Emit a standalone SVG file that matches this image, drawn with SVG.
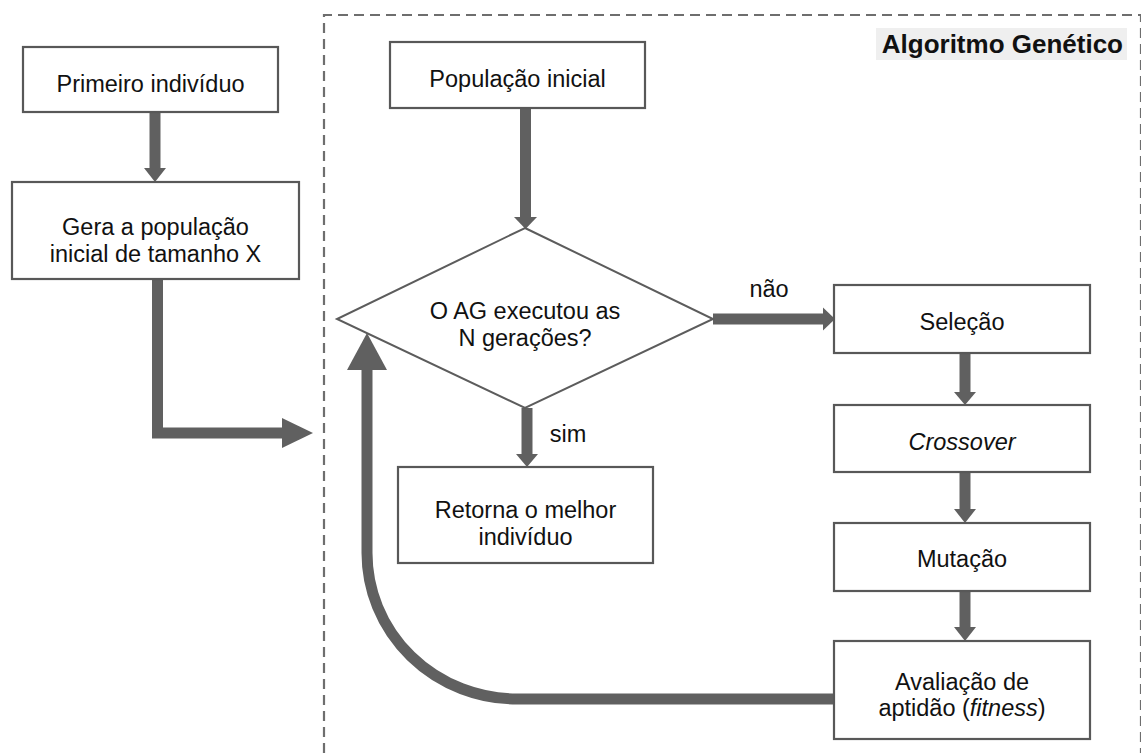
<svg xmlns="http://www.w3.org/2000/svg" width="1141" height="753" viewBox="0 0 1141 753">
<style>
.box{fill:#fff;stroke:#585858;stroke-width:2.2}
.t{font-family:"Liberation Sans",Arial,sans-serif;font-size:23.5px;fill:#111;text-anchor:middle}
.sh{stroke:#606060;stroke-width:11;fill:none}
.hd{fill:#606060}
</style>
<rect width="1141" height="753" fill="#fff"/>
<g id="frame">
<path d="M324,753 L324,15 L1141,15 L1141,753" fill="none" stroke="#6e6e6e" stroke-width="2.2" stroke-dasharray="10,6"/>
<rect x="876" y="28" width="251" height="32" fill="#efefef"/>
<text x="1123" y="53" font-family="'Liberation Sans',Arial,sans-serif" font-size="26" font-weight="bold" text-anchor="end" fill="#111">Algoritmo Genético</text>
</g>
<g id="connectors">
<line class="sh" x1="155" y1="112" x2="155" y2="169"/>
<polygon class="hd" points="144,168 166,168 155,182"/>
<path class="sh" d="M157.5,279 L157.5,433 L283,433"/>
<polygon class="hd" points="282,418 313,433 282,448"/>
<line class="sh" x1="525.5" y1="108" x2="525.5" y2="218"/>
<polygon class="hd" points="514,217 537,217 525.5,229"/>
<line class="sh" x1="713" y1="319" x2="824" y2="319"/>
<polygon class="hd" points="823,307.5 835,319 823,330.5"/>
<line class="sh" x1="527" y1="408" x2="527" y2="455"/>
<polygon class="hd" points="516,454 538,454 527,467"/>
<line class="sh" x1="965" y1="353" x2="965" y2="393"/>
<polygon class="hd" points="954,392 976,392 965,405"/>
<line class="sh" x1="965" y1="472" x2="965" y2="510"/>
<polygon class="hd" points="954,509 976,509 965,523"/>
<line class="sh" x1="965" y1="591" x2="965" y2="628"/>
<polygon class="hd" points="954,627 976,627 965,641"/>
<path class="sh" d="M834,699 L517,699 A150,146 0 0 1 367,553 L367,369"/>
<polygon class="hd" points="347,370 387,370 367,333"/>
<text class="t" x="769" y="297">não</text>
<text class="t" x="568" y="442">sim</text>
</g>
<g id="n-primeiro">
<rect class="box" x="23" y="47" width="255" height="65"/>
<text class="t" x="150.5" y="92">Primeiro indivíduo</text>
</g>
<g id="n-gera">
<rect class="box" x="12" y="182" width="287" height="97"/>
<text class="t" x="155.5" y="235">Gera a população</text>
<text class="t" x="155.5" y="262">inicial de tamanho X</text>
</g>
<g id="n-popinicial">
<rect class="box" x="390" y="42" width="255" height="66"/>
<text class="t" x="517.5" y="87">População inicial</text>
</g>
<g id="n-decisao">
<polygon points="525,228 713,319 525,408 337,319" fill="#fff" stroke="#5c5c5c" stroke-width="2"/>
<text class="t" x="525" y="319">O AG executou as</text>
<text class="t" x="525" y="346">N gerações?</text>
</g>
<g id="n-retorna">
<rect class="box" x="398" y="467" width="255" height="96"/>
<text class="t" x="525.5" y="518">Retorna o melhor</text>
<text class="t" x="525.5" y="545">indivíduo</text>
</g>
<g id="n-selecao">
<rect class="box" x="834" y="285" width="256" height="68"/>
<text class="t" x="962" y="330">Seleção</text>
</g>
<g id="n-crossover">
<rect class="box" x="834" y="405" width="256" height="67"/>
<text class="t" x="962" y="450" font-style="italic">Crossover</text>
</g>
<g id="n-mutacao">
<rect class="box" x="834" y="523" width="256" height="68"/>
<text class="t" x="962" y="567">Mutação</text>
</g>
<g id="n-avaliacao">
<rect class="box" x="834" y="641" width="256" height="98"/>
<text class="t" x="962" y="690">Avaliação de</text>
<text class="t" x="962" y="716">aptidão (<tspan font-style="italic">fitness</tspan>)</text>
</g>
</svg>
